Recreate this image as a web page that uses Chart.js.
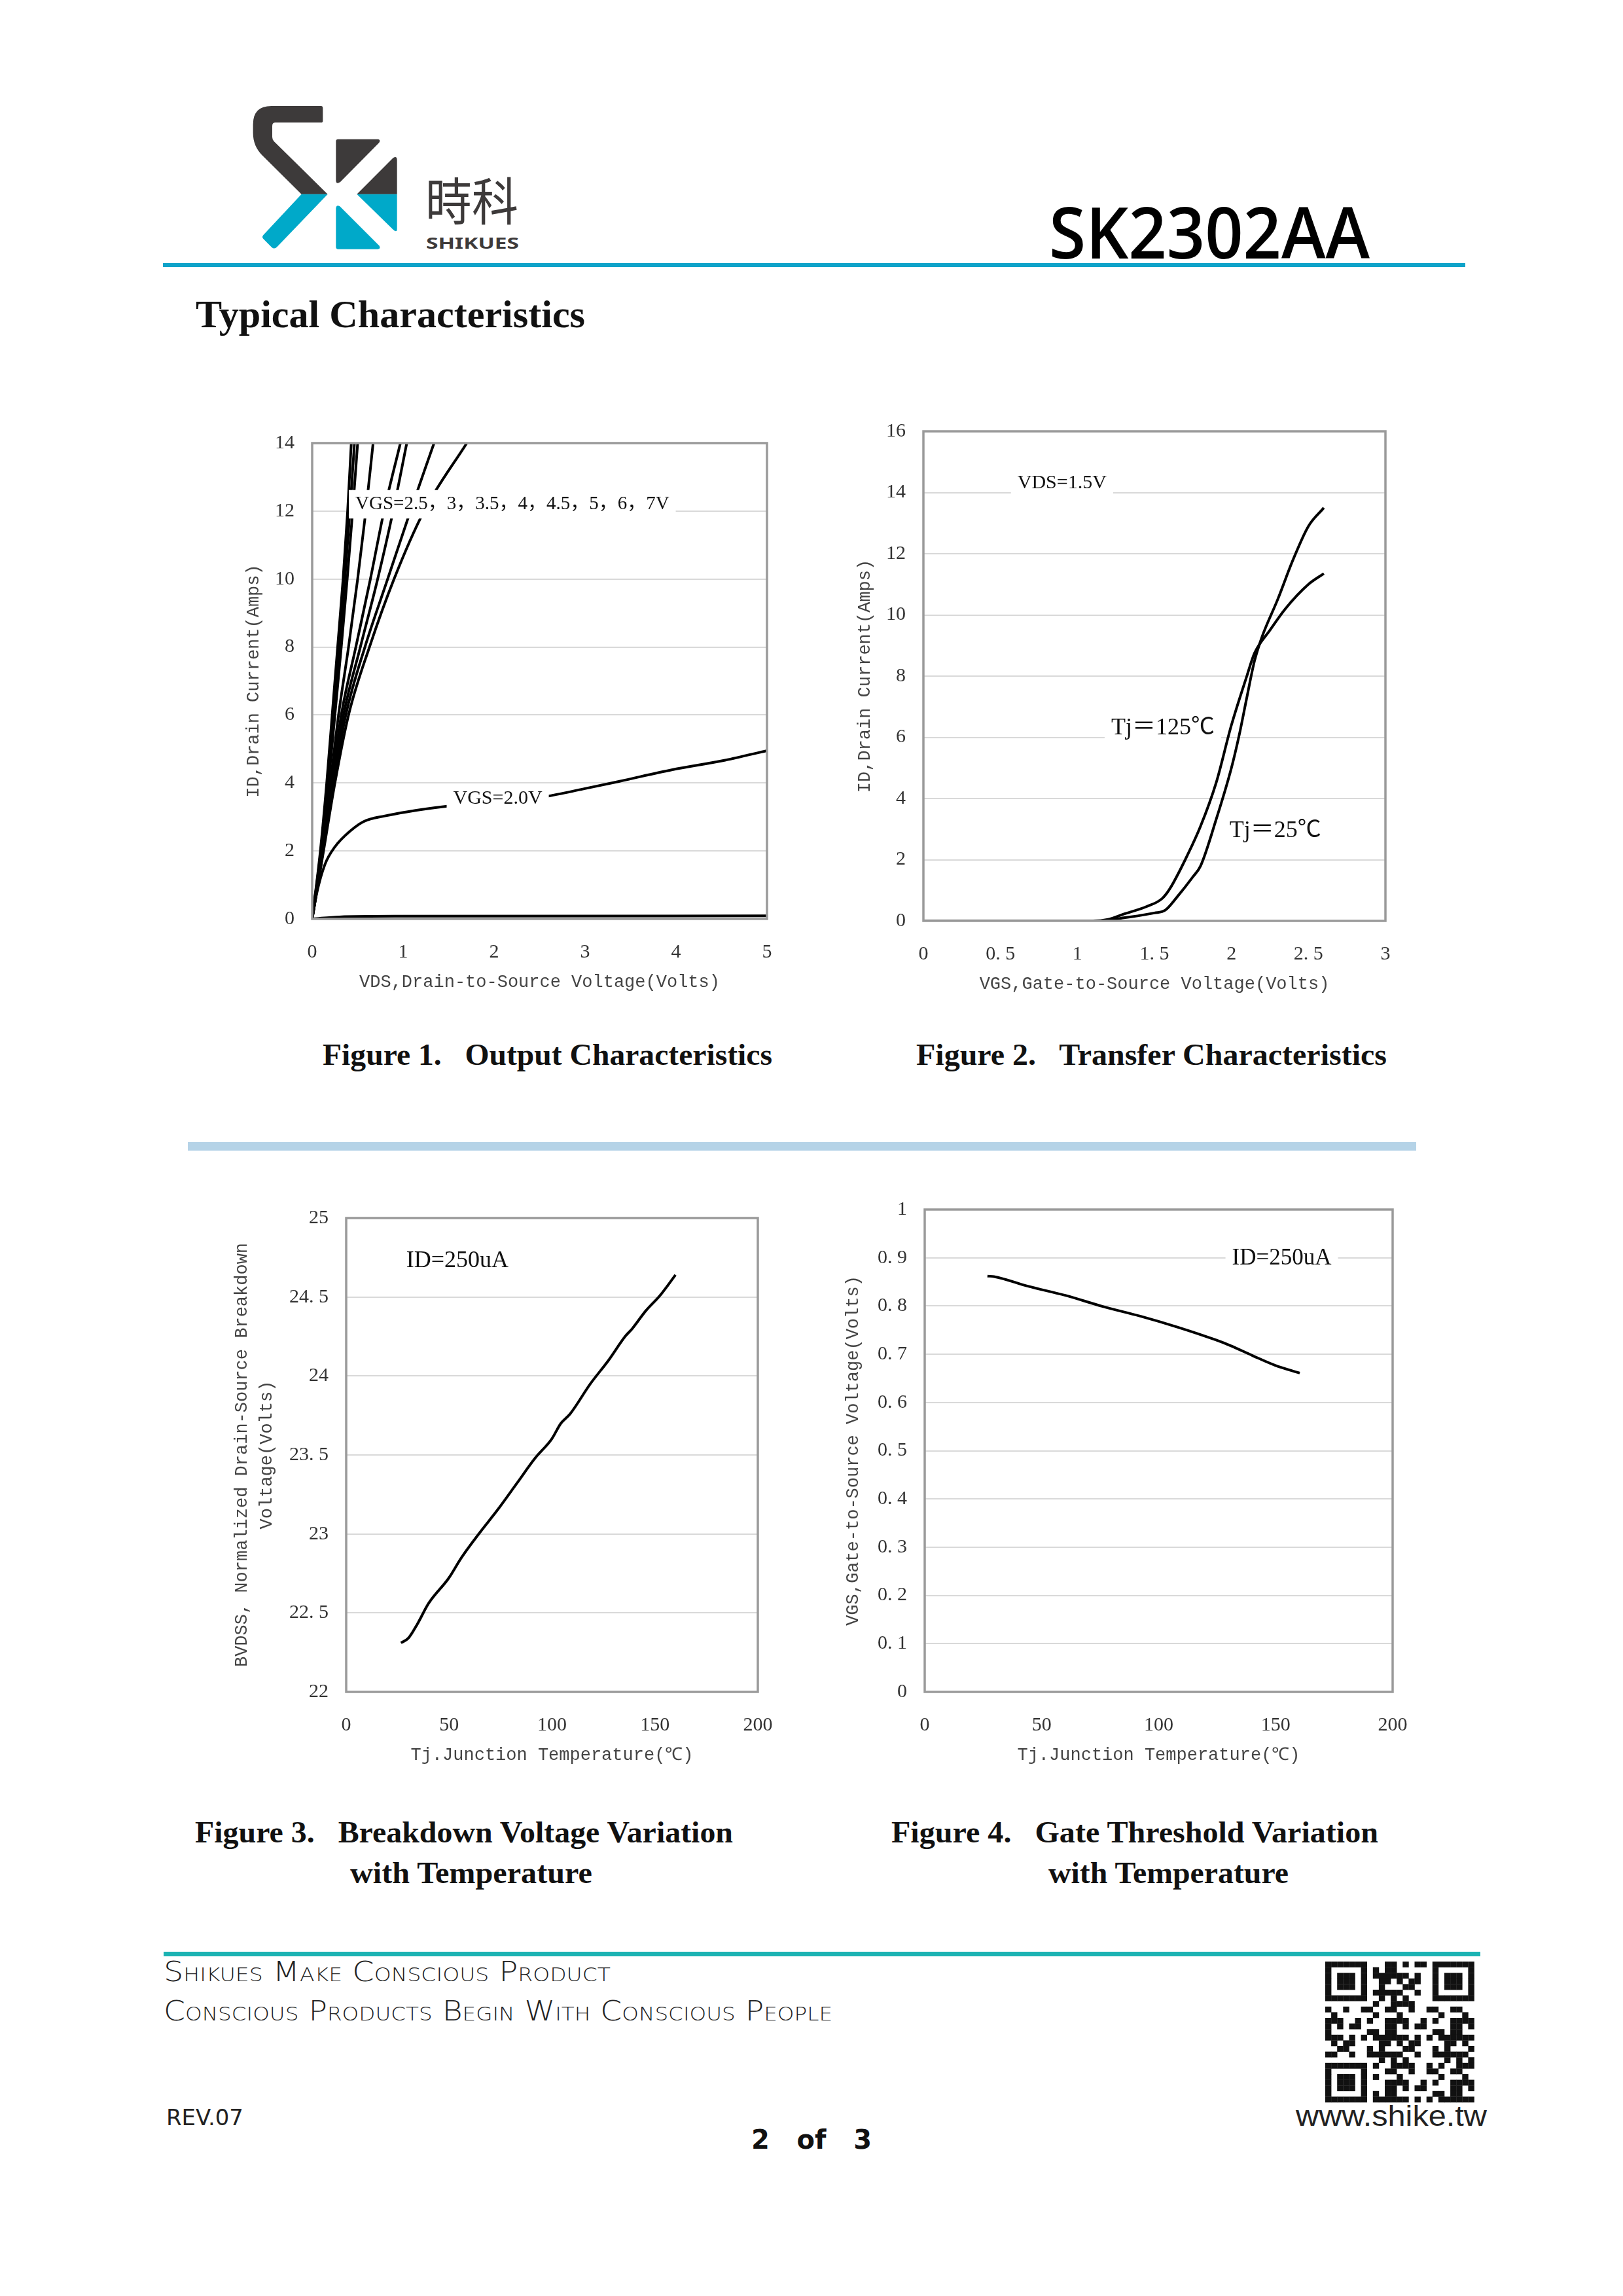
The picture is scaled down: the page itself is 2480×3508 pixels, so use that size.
<!DOCTYPE html>
<html>
<head>
<meta charset="utf-8">
<script src="https://cdn.jsdelivr.net/npm/chart.js@4.4.1/dist/chart.umd.min.js"></script>
<style>
body { margin: 0; background: #fff; width: 2480px; height: 3508px; position: relative; overflow: hidden; }
#page { position: absolute; left: 0; top: 0; }
canvas { position: absolute; }
.cap { font-family: 'Liberation Serif', 'DejaVu Serif', serif; font-weight: bold; font-size: 47px; fill: #111; white-space: pre; }
.foot { font-family: 'DejaVu Sans', sans-serif; font-weight: 200; font-variant: small-caps; fill: #222; }
</style>
</head>
<body>
<svg id="page" width="2480" height="3508" xmlns="http://www.w3.org/2000/svg">
  <g transform="translate(370,150) scale(0.33333)">
    <path fill="#3d3a3a" d="M362,36 Q370,36 370,46 L370,104 Q370,112 362,112 L152,112 Q138,112 138,128 L138,178 Q138,190 146,198 L392,440 L272,440 L92,262 Q50,220 50,160 L50,120 Q50,36 134,36 Z"/>
    <path fill="#00a9c9" d="M272,440 L392,440 L160,682 Q148,694 136,684 L98,646 Q88,636 98,626 Z"/>
    <path fill="#3d3a3a" d="M440,188 L622,188 Q636,190 628,204 L450,384 Q430,398 430,376 L430,198 Q430,188 440,188 Z"/>
    <path fill="#3d3a3a" d="M692,274 Q710,262 710,284 L710,440 L526,440 Z"/>
    <path fill="#00a9c9" d="M526,440 L710,440 L710,600 Q710,618 692,602 Z"/>
    <path fill="#00a9c9" d="M448,496 Q432,486 430,504 L430,682 Q430,692 440,692 L622,692 Q638,690 628,676 Z"/>
  </g>
  <text x="650" y="337" font-family="'Noto Sans CJK TC', 'Noto Sans CJK SC', sans-serif" font-size="78" fill="#3d3a3a" textLength="142" lengthAdjust="spacingAndGlyphs">時科</text>
  <text x="651" y="380" font-family="'Noto Sans', sans-serif" font-weight="700" font-size="24" fill="#3d3a3a" textLength="142" lengthAdjust="spacingAndGlyphs">SHIKUES</text>
  <text x="1603" y="395" font-family="'Open Sans', sans-serif" font-weight="600" font-size="108" fill="#000" textLength="490" lengthAdjust="spacingAndGlyphs">SK2302AA</text>
  <rect x="249" y="402" width="1990" height="6" fill="#0ea3c9"/>
  <text x="299" y="500" font-family="'Liberation Serif', serif" font-weight="bold" font-size="59" fill="#111" textLength="595" lengthAdjust="spacingAndGlyphs">Typical Characteristics</text>

  <text class="cap" x="493" y="1627" textLength="687" lengthAdjust="spacingAndGlyphs">Figure 1.   Output Characteristics</text>
  <text class="cap" x="1400" y="1627" textLength="719" lengthAdjust="spacingAndGlyphs">Figure 2.   Transfer Characteristics</text>
  <rect x="287" y="1745" width="1877" height="13" fill="#b5d3e7"/>
  <text class="cap" x="298" y="2815" textLength="822" lengthAdjust="spacingAndGlyphs">Figure 3.   Breakdown Voltage Variation</text>
  <text class="cap" x="535" y="2877" textLength="370" lengthAdjust="spacingAndGlyphs">with Temperature</text>
  <text class="cap" x="1362" y="2815" textLength="744" lengthAdjust="spacingAndGlyphs">Figure 4.   Gate Threshold Variation</text>
  <text class="cap" x="1602" y="2877" textLength="367" lengthAdjust="spacingAndGlyphs">with Temperature</text>

  <rect x="250" y="2982" width="2012" height="7" fill="#1bb3b3"/>
  <text class="foot" x="250" y="3027" font-size="42" textLength="683" lengthAdjust="spacingAndGlyphs">Shikues Make Conscious Product</text>
  <text class="foot" x="250" y="3087" font-size="42" textLength="1022" lengthAdjust="spacingAndGlyphs">Conscious Products Begin With Conscious People</text>
  <text x="254" y="3247" font-family="'DejaVu Sans', sans-serif" font-size="34" fill="#222" textLength="118" lengthAdjust="spacingAndGlyphs">REV.07</text>
  <text x="1148" y="3283" font-family="'DejaVu Sans', sans-serif" font-weight="600" font-size="40" fill="#111" textLength="184" lengthAdjust="spacingAndGlyphs" style="white-space:pre">2   of   3</text>
  <g id="qr" transform="translate(2025,2997)"></g>
  <text x="1980" y="3248" font-family="'Liberation Sans', sans-serif" font-size="44" fill="#222" textLength="292" lengthAdjust="spacingAndGlyphs">www.shike.tw</text>
</svg>

<canvas id="fig1" width="840" height="887" style="left:357px;top:647px"></canvas>
<canvas id="fig2" width="851" height="908" style="left:1291px;top:629px"></canvas>
<canvas id="fig3" width="844" height="884" style="left:339px;top:1831px"></canvas>
<canvas id="fig4" width="880" height="897" style="left:1273px;top:1818px"></canvas>

<script>
// ---- Figure 1: output characteristics (ID vs VDS) ----
const fig1XTicks = [0, 1, 2, 3, 4, 5]
const fig1YTicks = [0, 2, 4, 6, 8, 10, 12, 14]
// the steep curves are read as VDS at each ID level
const steepLevels = [0, 2, 4, 6, 8, 10, 12, 14]
const vgs70 = [0, 0.09, 0.16, 0.22, 0.28, 0.34, 0.39, 0.43]
const vgs60 = [0, 0.095, 0.17, 0.235, 0.30, 0.36, 0.415, 0.465]
const vgs50 = [0, 0.10, 0.18, 0.25, 0.32, 0.385, 0.445, 0.50]
const vgs45 = [0, 0.11, 0.20, 0.29, 0.40, 0.50, 0.59, 0.67]
const vgs40 = [0, 0.115, 0.215, 0.32, 0.48, 0.64, 0.79, 0.97]
const vgs35 = [0, 0.12, 0.225, 0.345, 0.53, 0.72, 0.89, 1.04]
const vgs30 = [0, 0.12, 0.235, 0.37, 0.58, 0.83, 1.08, 1.34]
const vgs25 = [0, 0.125, 0.25, 0.40, 0.63, 0.90, 1.23, 1.70]
const vgs20X = [0, 0.05, 0.14, 0.25, 0.42, 0.57, 0.8, 1.04, 1.5, 2.0, 2.56, 2.99, 3.38, 3.96, 4.54, 5]
const vgs20Y = [0, 0.75, 1.6, 2.12, 2.59, 2.87, 3.03, 3.15, 3.32, 3.45, 3.6, 3.83, 4.05, 4.39, 4.67, 4.95]
const offX = [0, 0.3, 1, 5]
const offY = [0, 0.06, 0.08, 0.09]

// ---- Figure 2: transfer characteristics (ID vs VGS) ----
const fig2XTicks = [0, 0.5, 1, 1.5, 2, 2.5, 3]
const fig2XLabels = ['0', '0. 5', '1', '1. 5', '2', '2. 5', '3']
const fig2YTicks = [0, 2, 4, 6, 8, 10, 12, 14, 16]
const tj125X = [0, 1.1, 1.2, 1.3, 1.45, 1.55, 1.6, 1.7, 1.8, 1.9, 2.0, 2.1, 2.15, 2.25, 2.35, 2.5, 2.6]
const tj125Y = [0, 0, 0.05, 0.22, 0.47, 0.73, 1.05, 2.0, 3.1, 4.5, 6.4, 8.0, 8.75, 9.5, 10.2, 11.0, 11.35]
const tj25X = [0, 1.15, 1.3, 1.5, 1.57, 1.65, 1.75, 1.8, 1.9, 2.0, 2.05, 2.1, 2.15, 2.2, 2.3, 2.4, 2.5, 2.6]
const tj25Y = [0, 0, 0.1, 0.26, 0.35, 0.8, 1.44, 1.8, 3.3, 5.0, 6.06, 7.3, 8.5, 9.3, 10.5, 11.8, 12.9, 13.5]

// ---- Figure 3: breakdown voltage vs temperature ----
const tempTicks = [0, 50, 100, 150, 200]
const fig3YTicks = [22, 22.5, 23, 23.5, 24, 24.5, 25]
const fig3YLabels = ['22', '22. 5', '23', '23. 5', '24', '24. 5', '25']
const bvTemp = [26.6, 30.2, 34.6, 40, 49.8, 56, 65, 74, 82.9, 91.8, 99.8, 104.3, 108.8, 118.6, 127.5, 135.5, 139, 145.4, 152.5, 160]
const bvVolts = [22.31, 22.34, 22.43, 22.56, 22.72, 22.85, 23.01, 23.16, 23.32, 23.48, 23.6, 23.7, 23.76, 23.95, 24.1, 24.25, 24.3, 24.41, 24.51, 24.64]

// ---- Figure 4: gate threshold vs temperature ----
const fig4YTicks = [0, 0.1, 0.2, 0.3, 0.4, 0.5, 0.6, 0.7, 0.8, 0.9, 1]
const fig4YLabels = ['0', '0. 1', '0. 2', '0. 3', '0. 4', '0. 5', '0. 6', '0. 7', '0. 8', '0. 9', '1']
const vthTemp = [26.8, 29.6, 44.1, 60.1, 76.1, 92.1, 108.2, 124.2, 130.6, 140.2, 149.8, 160.3]
const vthVolts = [0.862, 0.861, 0.841, 0.822, 0.799, 0.779, 0.756, 0.73, 0.718, 0.697, 0.677, 0.661]

const serif = "'Liberation Serif', 'Noto Sans CJK SC', 'DejaVu Serif', serif"
const mono = "'Liberation Mono', 'DejaVu Sans Mono', monospace"

const pts = (xs, ys) => xs.map((x, i) => ({ x: x, y: ys[i] }))

const line = (data) => ({
    data: data,
    borderColor: '#000',
    borderWidth: 4,
    pointRadius: 0,
    fill: false,
    cubicInterpolationMode: 'monotone',
})

// frame round the plot and text notes on a white patch
const framePlugin = {
    id: 'frame',
    afterDatasetsDraw(chart, args, opts) {
        const { ctx, chartArea: a, scales } = chart
        ctx.save()
        for (const n of (opts.notes || [])) {
            ctx.font = `${n.size}px ${serif}`
            const w = ctx.measureText(n.text).width
            const px = scales.x.getPixelForValue(n.x)
            const py = scales.y.getPixelForValue(n.y)
            ctx.fillStyle = '#fff'
            ctx.fillRect(px - w / 2 - 10, py - n.size * 0.75, w + 20, n.size * 1.5)
            ctx.fillStyle = '#111'
            ctx.textAlign = 'center'
            ctx.textBaseline = 'middle'
            ctx.fillText(n.text, px, py)
        }
        ctx.strokeStyle = '#9a9a9a'
        ctx.lineWidth = 3.5
        ctx.strokeRect(a.left, a.top, a.right - a.left, a.bottom - a.top)
        ctx.restore()
    }
}

function xAxis(min, max, ticks, labels, title) {
    return {
        type: 'linear', min: min, max: max,
        // fixed height, and no extra room for the end labels
        afterFit: s => { s.height = 130; s.paddingLeft = 0; s.paddingRight = 0 },
        afterBuildTicks: s => { s.ticks = ticks.map(v => ({ value: v })) },
        grid: { display: false },
        border: { display: false },
        ticks: {
            padding: 25, maxRotation: 0, autoSkip: false, color: '#333',
            font: { family: serif, size: 30 },
            callback: (v, i) => labels[i],
        },
        title: {
            display: true, text: title, color: '#444',
            font: { family: mono, size: 27 },
            padding: { top: 0, bottom: 17 },
        },
    }
}

function yAxis(min, max, ticks, labels, title, width, pad, lh) {
    return {
        type: 'linear', min: min, max: max,
        afterFit: s => { s.width = width; s.paddingTop = 0; s.paddingBottom = 0 },
        afterBuildTicks: s => { s.ticks = ticks.map(v => ({ value: v })) },
        grid: { color: '#d9d9d9', lineWidth: 2, drawTicks: false },
        border: { display: false },
        ticks: {
            padding: 27, autoSkip: false, color: '#333',
            font: { family: serif, size: 30 },
            callback: (v, i) => labels[i],
        },
        title: {
            display: true, text: title, color: '#444',
            font: { family: mono, size: 27, lineHeight: lh || 1.2 },
            padding: { top: pad, bottom: 0 },
        },
    }
}

function makeChart(id, datasets, scales, notes) {
    return new Chart(document.getElementById(id), {
        type: 'line',
        data: { datasets: datasets },
        plugins: [framePlugin],
        options: {
            responsive: false,
            animation: false,
            devicePixelRatio: 1,
            layout: { padding: { top: 30, right: 25, left: 0, bottom: 0 } },
            scales: scales,
            plugins: {
                legend: { display: false },
                tooltip: { enabled: false },
                frame: { notes: notes },
            },
        },
    })
}

const str = a => a.map(String)

makeChart('fig1', [
    line(pts(offX, offY)),
    line(pts(vgs20X, vgs20Y)),
    line(pts(vgs25, steepLevels)),
    line(pts(vgs30, steepLevels)),
    line(pts(vgs35, steepLevels)),
    line(pts(vgs40, steepLevels)),
    line(pts(vgs45, steepLevels)),
    line(pts(vgs50, steepLevels)),
    line(pts(vgs60, steepLevels)),
    line(pts(vgs70, steepLevels)),
], {
    x: xAxis(0, 5, fig1XTicks, str(fig1XTicks), 'VDS,Drain-to-Source Voltage(Volts)'),
    y: yAxis(0, 14, fig1YTicks, str(fig1YTicks), 'ID,Drain Current(Amps)', 120, 15),
}, [
    { text: 'VGS=2.5，3，3.5，4，4.5，5，6，7V', x: 2.2, y: 12.2, size: 29 },
    { text: 'VGS=2.0V', x: 2.04, y: 3.55, size: 30 },
])

makeChart('fig2', [
    line(pts(tj125X, tj125Y)),
    line(pts(tj25X, tj25Y)),
], {
    x: xAxis(0, 3, fig2XTicks, fig2XLabels, 'VGS,Gate-to-Source Voltage(Volts)'),
    y: yAxis(0, 16, fig2YTicks, str(fig2YTicks), 'ID,Drain Current(Amps)', 120, 15),
}, [
    { text: 'VDS=1.5V', x: 0.9, y: 14.3, size: 30 },
    { text: 'Tj＝125℃', x: 1.555, y: 6.3, size: 36 },
    { text: 'Tj＝25℃', x: 2.285, y: 2.95, size: 36 },
])

makeChart('fig3', [
    line(pts(bvTemp, bvVolts)),
], {
    x: xAxis(0, 200, tempTicks, str(tempTicks), 'Tj.Junction Temperature(℃)'),
    y: yAxis(22, 25, fig3YTicks, fig3YLabels,
        ['BVDSS, Normalized Drain-Source Breakdown', 'Voltage(Volts)'], 190, 12, 1.4),
}, [
    { text: 'ID=250uA', x: 54, y: 24.73, size: 36 },
])

makeChart('fig4', [
    line(pts(vthTemp, vthVolts)),
], {
    x: xAxis(0, 200, tempTicks, str(tempTicks), 'Tj.Junction Temperature(℃)'),
    y: yAxis(0, 1, fig4YTicks, fig4YLabels, 'VGS,Gate-to-Source Voltage(Volts)', 140, 15),
}, [
    { text: 'ID=250uA', x: 152.6, y: 0.898, size: 35 },
])

// QR-style block in the footer (decoration only)
const qr = document.getElementById('qr')
const N = 25, MW = 9.1, MH = 8.6
const finder = (r, c, r0, c0) => {
    const i = r - r0, j = c - c0
    if (i < 0 || j < 0 || i > 6 || j > 6) return null
    return (i === 0 || i === 6 || j === 0 || j === 6 || (i >= 2 && i <= 4 && j >= 2 && j <= 4))
}
for (let r = 0; r < N; r++) {
    for (let c = 0; c < N; c++) {
        let on = finder(r, c, 0, 0)
        if (on === null) on = finder(r, c, 0, N - 7)
        if (on === null) on = finder(r, c, N - 7, 0)
        if (on === null) {
            if ((r < 8 && (c < 8 || c > N - 9)) || (r > N - 9 && c < 8)) on = false
            else on = ((r * r * 3 + c * c * 5 + r * c * 7 + r + 2 * c) % 11) < 5
        }
        if (on) {
            const el = document.createElementNS('http://www.w3.org/2000/svg', 'rect')
            el.setAttribute('x', c * MW)
            el.setAttribute('y', r * MH)
            el.setAttribute('width', MW + 0.3)
            el.setAttribute('height', MH + 0.3)
            el.setAttribute('fill', '#111')
            qr.appendChild(el)
        }
    }
}
</script>
</body>
</html>
